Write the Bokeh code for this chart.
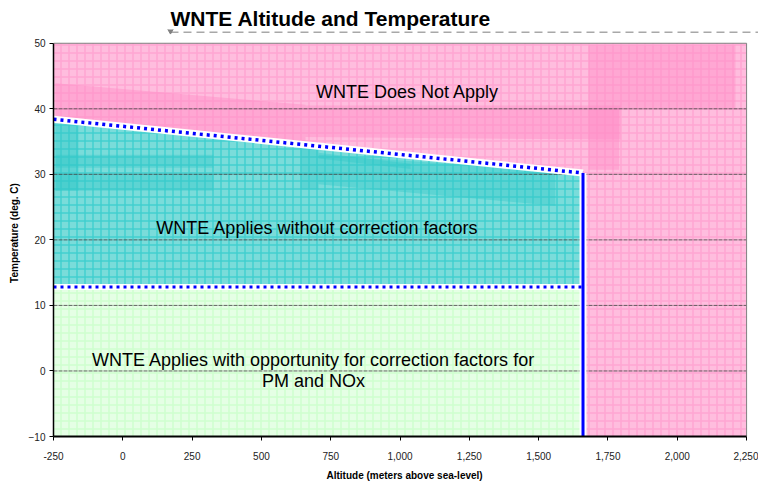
from bokeh.plotting import figure
from bokeh.models import Range1d, FixedTicker, NumeralTickFormatter
from bokeh.core.properties import value
from bokeh.embed import file_html
from bokeh.resources import INLINE

# ---- data ----
x_min, x_max = -250, 2250
y_min, y_max = -10, 50
alt_limit = 1660            # altitude limit (m)
temp_low = 12.8             # lower temperature boundary (deg C)
slope_alt = [-250, 1660]    # upper boundary altitude
slope_temp = [38.4, 30.2]   # upper boundary temperature

x_ticks = [-250, 0, 250, 500, 750, 1000, 1250, 1500, 1750, 2000, 2250]
y_ticks = [-10, 0, 10, 20, 30, 40, 50]
grid_ticks = [0, 10, 20, 30, 40]

# region polygons (data coordinates)
pink_x = [slope_alt[0], slope_alt[1], alt_limit, x_max, x_max, x_min]
pink_y = [slope_temp[0], slope_temp[1], y_min, y_min, y_max, y_max]
teal_x = [x_min, alt_limit, alt_limit, x_min]
teal_y = [temp_low, temp_low, slope_temp[1], slope_temp[0]]
green_x = [x_min, alt_limit, alt_limit, x_min]
green_y = [y_min, y_min, temp_low, temp_low]

# darker smudges in the shaded areas
pink_blob_xs = [[1680, 2210, 2210, 1680], [-243, 659, 659, -243],
                [659, 1795, 1795, 659], [1680, 1790, 1790, 1680]]
pink_blob_ys = [[40.0, 40.0, 49.7, 49.7], [43.9, 40.6, 35.0, 36.0],
                [40.5, 40.5, 35.3, 35.7], [40.0, 40.0, 30.7, 30.7]]
teal_blob_xs = [[-243, -160, -160, -243], [-243, 327, 327, -243],
                [-243, 327, 327, -243], [641, 706, 706, 641],
                [706, 1560, 1560, 706], [706, 1038, 1038, 706]]
teal_blob_ys = [[27.5, 27.5, 37.5, 37.5], [27.5, 27.5, 30.0, 30.0],
                [31.0, 31.0, 33.0, 33.0], [27.7, 27.7, 33.8, 33.8],
                [33.0, 30.5, 25.2, 28.5], [33.3, 31.6, 30.8, 32.4]]

labels_x = [1027, 702, 688, 688]
labels_y = [42.6, 21.8, 1.6, -1.5]
labels_text = ["WNTE Does Not Apply", "WNTE Applies without correction factors",
               "WNTE Applies with opportunity for correction factors for", "PM and NOx"]

# decorative dashed rule under the title (data coordinates)
rule_x = [172, 2293]
rule_y = 51.67

FONT = "Liberation Sans"

p = figure(width=758, height=483, output_backend="svg", toolbar_location=None,
           x_range=Range1d(x_min, 2293), y_range=Range1d(y_min, 52.1),
           min_border_left=53, min_border_right=0, min_border_top=29, min_border_bottom=45,
           title="WNTE Altitude and Temperature")
p.background_fill_color = "white"
p.border_fill_color = "white"
p.outline_line_color = None

p.title.text_font = FONT
p.title.text_font_size = "21px"
p.title.text_font_style = "bold"
p.title.text_color = "black"
p.title.align = "left"
p.title.offset = 117
p.title.standoff = 0

# regions
p.patch(pink_x, pink_y, fill_color="#FFBDDE", line_color=None,
        hatch_pattern="+", hatch_scale=8, hatch_color="#FF99CC", hatch_weight=1.5, hatch_alpha=0.65)
p.patches(pink_blob_xs, pink_blob_ys, fill_color="#FF8CC6", fill_alpha=0.45, line_color=None)
p.patch(teal_x, teal_y, fill_color="#7ADCDA", line_color=None,
        hatch_pattern="+", hatch_scale=8, hatch_color="#33CCCC", hatch_weight=1.5, hatch_alpha=0.8)
p.patches(teal_blob_xs, teal_blob_ys, fill_color="#33C8C8", fill_alpha=0.4, line_color=None)
p.patch(green_x, green_y, fill_color="#E5FFE5", line_color=None,
        hatch_pattern="+", hatch_scale=8, hatch_color="#CCFFCC", hatch_weight=1.5, hatch_alpha=0.9)

# grid lines over the regions
p.xgrid.visible = False
p.ygrid.visible = False
p.segment(x0=[x_min] * len(grid_ticks), x1=[x_max] * len(grid_ticks), y0=grid_ticks, y1=grid_ticks,
          line_color="#404040", line_alpha=0.8, line_width=1, line_dash="4 1")

# plot-area border (top and right)
p.line([x_min, x_max, x_max], [y_max, y_max, y_min], line_color="#808080", line_width=1)

# boundaries: white halo + blue
p.line(slope_alt, slope_temp, line_color="white", line_width=7)
p.line([x_min, alt_limit], [temp_low, temp_low], line_color="white", line_width=6)
p.line([alt_limit, alt_limit], [y_min, slope_temp[1]], line_color="white", line_width=7)
p.line(slope_alt, slope_temp, line_color="#0000FF", line_width=3.5, line_dash="3 4")
p.line([x_min, alt_limit], [temp_low, temp_low], line_color="#0000FF", line_width=3, line_dash="3 4")
p.line([alt_limit, alt_limit], [y_min, slope_temp[1]], line_color="#0000FF", line_width=3)

# region labels
p.text(labels_x, labels_y, text=labels_text, text_font=value(FONT), text_font_size=value("18px"),
       text_align="center", text_baseline="middle", text_color="black")

# dashed decoration under title
p.line(rule_x, [rule_y, rule_y], line_color="#A8A8A8", line_width=1.5, line_dash="8 5")
p.scatter([rule_x[0]], [rule_y + 0.35], marker="inverted_triangle", size=7,
          fill_color="#808080", line_color="#808080")

# axes
p.xaxis.ticker = FixedTicker(ticks=x_ticks)
p.xaxis.formatter = NumeralTickFormatter(format="0,0")
p.yaxis.ticker = FixedTicker(ticks=y_ticks)
p.xaxis.bounds = (x_min, x_max)
p.yaxis.bounds = (y_min, y_max)
for ax in (p.xaxis[0], p.yaxis[0]):
    ax.major_label_text_font = FONT
    ax.major_label_text_font_size = "10px"
    ax.major_label_text_color = "#222222"
    ax.axis_label_text_font = FONT
    ax.axis_label_text_font_size = "10px"
    ax.axis_label_text_font_style = "bold"
    ax.axis_label_text_color = "black"
    ax.major_tick_in = 0
    ax.major_tick_out = 4
    ax.minor_tick_out = 0
    ax.minor_tick_in = 0
    ax.axis_line_color = "black"
    ax.major_tick_line_color = "black"
p.xaxis.axis_line_width = 2
p.yaxis.axis_line_width = 1.5
p.xaxis.axis_label = "Altitude  (meters above sea-level)"
p.yaxis.axis_label = "Temperature (deg. C)"
p.xaxis.major_label_standoff = 11
p.xaxis.axis_label_standoff = 7
p.yaxis.major_label_standoff = 4
p.yaxis.axis_label_standoff = 6

open("out.html", "w").write(file_html(p, INLINE))
